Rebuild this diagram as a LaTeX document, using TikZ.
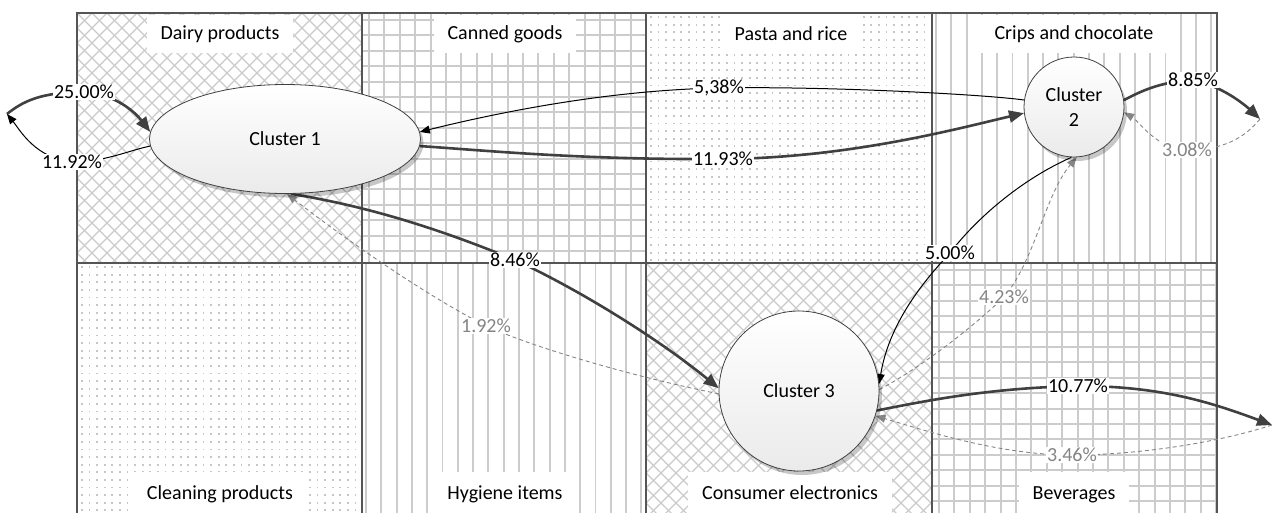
\documentclass[tikz,border=0pt]{standalone}
\usepackage{fontspec}
\setmainfont{Carlito}
\usetikzlibrary{arrows.meta,shapes.geometric,shadows}

\pgfdeclarelayer{bg}
\pgfdeclarelayer{edges}
\pgfsetlayers{bg,edges,main}

\definecolor{hatchgrey}{HTML}{CACACA}
\definecolor{gridgrey}{HTML}{CCCCCC}
\definecolor{dotgrey}{HTML}{C6C6C6}
\definecolor{framegrey}{HTML}{555555}
\definecolor{strongflow}{HTML}{404040}
\definecolor{faintflow}{HTML}{858585}

\newcommand\lblfont{\fontsize{20}{25}\selectfont}

% cell fillings: #1 #2 = top-left corner, #3 #4 = bottom-right corner
\newcommand\hatchcell[4]{%
  \begin{scope}
    \clip (#1,#2) rectangle (#3,#4);
    \foreach \i in {-18,...,38} {
      \draw[hatchgrey, line width=1.1pt] (#1+15*\i,#2) -- ++(270,270);
      \draw[hatchgrey, line width=1.1pt] (#1+15*\i,#2) -- ++(-270,270);
    }
  \end{scope}}
\newcommand\gridcell[4]{%
  \begin{scope}
    \clip (#1,#2) rectangle (#3,#4);
    \foreach \i in {0,...,19} {
      \draw[gridgrey, line width=1.9pt] (#1+7+15.4*\i,#2) -- (#1+7+15.4*\i,#4);
      \draw[gridgrey, line width=1.9pt] (#1,#2+7+15.4*\i) -- (#3,#2+7+15.4*\i);
    }
  \end{scope}}
\newcommand\stripecell[4]{%
  \begin{scope}
    \clip (#1,#2) rectangle (#3,#4);
    \foreach \i in {0,...,19} {
      \draw[gridgrey, line width=1.9pt] (#1+4+15.3*\i,#2) -- (#1+4+15.3*\i,#4);
    }
  \end{scope}}
\newcommand\dotcell[4]{%
  \begin{scope}
    \clip (#1,#2) rectangle (#3,#4);
    \foreach \i in {0,...,34} {
      \draw[dotgrey, line width=1.8pt, dash pattern=on 1.8pt off 5.8pt]
        (#1+4,#2+4+7.6*\i) -- (#3,#2+4+7.6*\i);
    }
  \end{scope}}

\begin{document}
\begin{tikzpicture}[x=1pt,y=-1pt,
  cluster/.style={draw=black!75, line width=0.8pt, top color=white, bottom color=black!8,
    drop shadow={shadow xshift=3pt, shadow yshift=-4pt, opacity=0.22, fill=black},
    font=\lblfont, align=center, inner sep=0pt},
  pct/.style={fill=white, inner sep=1pt, font=\lblfont},
  pctfaint/.style={pct, text=faintflow},
  cat/.style={fill=white, inner xsep=14pt, inner ysep=0pt, minimum height=38pt, font=\lblfont},
  flowstrong/.style={draw=strongflow, line width=2.6pt, -{Triangle[length=15pt,width=12pt]}},
  flowthin/.style={draw=black, line width=1pt, -{Triangle[length=10pt,width=8pt]}},
  flowfaint/.style={draw=faintflow, line width=0.9pt, dash pattern=on 4pt off 3pt,
    -{Triangle[length=10pt,width=8pt]}}]

\useasboundingbox (0,0) rectangle (1273,512);

% ---- category grid -------------------------------------------------
\begin{pgfonlayer}{bg}
  \hatchcell{77}{13}{362}{263}
  \gridcell{362}{13}{646}{263}
  \dotcell{646}{13}{932}{263}
  \stripecell{932}{13}{1217}{263}
  \dotcell{77}{263}{362}{516}
  \stripecell{362}{263}{646}{516}
  \hatchcell{646}{263}{932}{516}
  \gridcell{932}{263}{1217}{516}
  \draw[framegrey, line width=1.4pt]
    (362,13) -- (362,516) (646,13) -- (646,516) (932,13) -- (932,516) (77,263) -- (1217,263);
  \draw[framegrey, line width=2.6pt] (77,516) -- (77,13) -- (1217,13) -- (1217,516);
\end{pgfonlayer}

\node[cat] (dairy) at (220,34) {Dairy products};
\node[cat] (canned) at (505,34) {Canned goods};
\node[cat] (pasta) at (791,34) {Pasta and rice};
\node[cat] (crisps) at (1074,34) {Crips and chocolate};
\node[cat, minimum height=46pt] (cleaning) at (220,495) {\raisebox{4pt}{Cleaning products}};
\node[cat, minimum height=46pt] (hygiene) at (505,495) {\raisebox{4pt}{Hygiene items}};
\node[cat, minimum height=46pt] (electronics) at (790,495) {\raisebox{4pt}{Consumer electronics}};
\node[cat, minimum height=46pt] (beverages) at (1074,495) {\raisebox{4pt}{Beverages}};

% ---- clusters ------------------------------------------------------
\node[cluster, ellipse, minimum width=271pt, minimum height=109pt] (c1) at (285,139) {Cluster 1};
\node[cluster, circle, minimum size=100pt] (c2) at (1074,107) {Cluster\\2};
\node[cluster, circle, minimum size=160pt] (c3) at (799,391) {Cluster 3};

% ---- outside ends --------------------------------------------------
\coordinate (out1) at (7,114);
\coordinate (out2) at (1260,119);
\coordinate (out3) at (1272,425);

% ---- flow labels ---------------------------------------------------
\node[pct] (p25) at (84,92) {25.00\%};
\node[pct] (p1192) at (72,162) {11.92\%};
\node[pct] (p538) at (719,88) {5,38\%};
\node[pct] (p1193) at (723,159) {11.93\%};
\node[pct] (p846) at (515,260) {8.46\%};
\node[pctfaint] (p192) at (486,326) {1.92\%};
\node[pct] (p500) at (950,253) {5.00\%};
\node[pctfaint] (p423) at (1004,297) {4.23\%};
\node[pct] (p885) at (1193,80) {8.85\%};
\node[pctfaint] (p308) at (1187,150) {3.08\%};
\node[pct] (p1077) at (1078,386) {10.77\%};
\node[pctfaint] (p346) at (1072,455) {3.46\%};

% ---- flows ---------------------------------------------------------
\begin{pgfonlayer}{edges}
  \draw[flowstrong] (out1) .. controls (22,102) and (40,92) .. (p25.center)
    .. controls (115,94) and (135,112) .. (c1.177);
  \draw[flowthin] (c1.183) .. controls (130,150) and (105,162) .. (p1192.center)
    .. controls (35,158) and (20,130) .. (out1);
  \draw[flowthin] (c2.172) .. controls (980,94) and (820,86) .. (p538.center)
    .. controls (610,90) and (500,112) .. (c1.3);
  \draw[flowstrong] (c1.357) .. controls (480,150) and (580,160) .. (p1193.center)
    .. controls (850,158) and (960,128) .. (c2.187);
  \draw[flowstrong] (c1.-84) .. controls (360,205) and (430,225) .. (p846.center)
    .. controls (580,290) and (660,340) .. (c3.178);
  \draw[flowfaint] (c3.182) .. controls (640,378) and (540,350) .. (p192.center)
    .. controls (420,292) and (340,235) .. (c1.-88);
  \draw[flowthin] (c2.-93) .. controls (1020,180) and (975,220) .. (p500.center)
    .. controls (915,290) and (888,330) .. (c3.5);
  \draw[flowfaint] (c3.1) .. controls (925,365) and (975,325) .. (p423.center)
    .. controls (1035,260) and (1045,195) .. (c2.-87);
  \draw[flowstrong] (c2.8) .. controls (1140,92) and (1158,82) .. (p885.center)
    .. controls (1222,86) and (1245,105) .. (out2);
  \draw[flowfaint] (out2) .. controls (1245,137) and (1225,150) .. (p308.center)
    .. controls (1155,148) and (1140,122) .. (c2.-6);
  \draw[flowstrong] (c3.-14) .. controls (930,400) and (990,388) .. (p1077.center)
    .. controls (1160,386) and (1210,402) .. (out3);
  \draw[flowfaint] (out3) .. controls (1220,442) and (1140,455) .. (p346.center)
    .. controls (1000,455) and (930,432) .. (c3.-18);
\end{pgfonlayer}
\end{tikzpicture}
\end{document}
